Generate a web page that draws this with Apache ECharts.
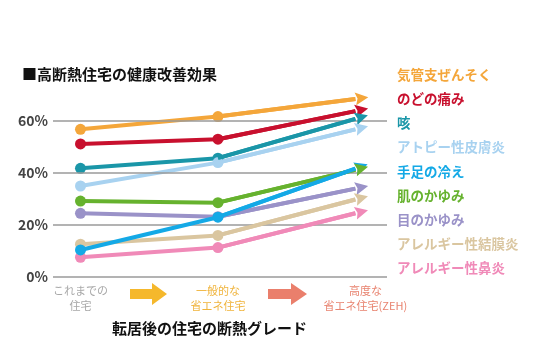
<!DOCTYPE html>
<html><head><meta charset="utf-8">
<script src="https://cdn.jsdelivr.net/npm/echarts@6/dist/echarts.min.js"></script>
<style>html,body{margin:0;padding:0;background:#fff}#c{width:539px;height:364px}</style>
</head><body><div id="c"></div>
<script>
const categories = ['これまでの\n住宅', '一般的な\n省エネ住宅', '高度な\n省エネ住宅(ZEH)'];
const seriesNames = ['気管支ぜんそく','のどの痛み','咳','アトピー性皮膚炎','手足の冷え','肌のかゆみ','目のかゆみ','アレルギー性結膜炎','アレルギー性鼻炎'];
const asthma      = [56.8, 61.7, 68.5];
const throat      = [51.2, 53.0, 63.8];
const cough       = [41.8, 45.7, 60.8];
const atopy       = [35.0, 44.0, 56.8];
const coldLimbs   = [10.4, 23.0, 41.7];
const skinItch    = [29.2, 28.6, 41.2];
const eyeItch     = [24.5, 23.2, 34.0];
const conjunct    = [12.6, 16.0, 29.8];
const rhinitis    = [7.6, 11.3, 24.5];
const yTicks = [0, 20, 40, 60];
const allValues = [asthma, throat, cough, atopy, coldLimbs, skinItch, eyeItch, conjunct, rhinitis];
const colors = ['#f4a63a','#c8102e','#1a96a8','#a8d2f0','#14a9e6','#66b22e','#9a92c8','#dac6a0','#f08ab8'];
const zOrder = [3,3,3,3,6,3,3,3,3];
const labelColors = ['#a8a8a8','#f0b43c','#e8836f'];
const FONT = '"Noto Sans CJK JP", "Noto Sans", sans-serif';
// arrow head whose base sits at the symbol centre (invisible anchor point below)
const ARROW = 'path://M6,24L6,24M6,0L12,12L6,10L0,12Z';

const chart = echarts.init(document.getElementById('c'), null, {renderer:'canvas'});
const series = [{
  name: 'grid', type: 'line', data: [], z: 1, silent: true,
  markLine: {
    silent: true, symbol: ['none', 'none'], label: {show: false}, animation: false,
    lineStyle: {color: '#9a9a9a', width: 1.5, type: 'solid'},
    emphasis: {disabled: true},
    data: yTicks.map(t => ({yAxis: t}))
  }
}].concat(seriesNames.map((name, i) => {
  const v = allValues[i];
  return {
    name, type: 'line', clip: false, z: zOrder[i],
    data: v.map((y, x) => ({value: [x, y], symbol: x < v.length - 1 ? 'circle' : 'none'})),
    symbolSize: 11,
    itemStyle: {color: colors[i]},
    lineStyle: {color: colors[i], width: 4},
    silent: true,
    markLine: {
      silent: true,
      symbol: ['none', ARROW],
      symbolSize: [13, 26],
      label: {show: false},
      lineStyle: {color: colors[i], width: 4, type: 'solid', opacity: 1},
      emphasis: {disabled: true},
      animation: false,
      data: [[{coord: [1, v[1]]}, {coord: [2, v[2]]}]]
    }
  };
}));

chart.setOption({
  animation: false,
  backgroundColor: '#fff',
  textStyle: {fontFamily: FONT},
  grid: {left: 53, right: 152, top: 69, bottom: 87},
  xAxis: {
    type: 'value', min: -0.2, max: 2.23,
    axisLine: {show: false}, axisTick: {show: false}, splitLine: {show: false},
    axisLabel: {
      customValues: [0, 1, 2], margin: 6, fontSize: 11, lineHeight: 15,
      formatter: (val) => {
        const i = Math.round(val);
        const parts = categories[i].split('\n');
        return parts.map(p => '{c' + i + '|' + p + '}').join('\n');
      },
      rich: {
        c0: {color: labelColors[0], fontSize: 11, lineHeight: 15, fontFamily: FONT},
        c1: {color: labelColors[1], fontSize: 11, lineHeight: 15, fontFamily: FONT},
        c2: {color: labelColors[2], fontSize: 11, lineHeight: 15, fontFamily: FONT, padding: [0, 0, 0, 20]}
      }
    }
  },
  yAxis: {
    type: 'value', min: 0, max: 80, interval: 20,
    axisLine: {show: false}, axisTick: {show: false},
    splitLine: {show: false},
    axisLabel: {
      customValues: yTicks,
      formatter: '{value}%', color: '#444', fontSize: 14, fontWeight: 'bold', margin: 5, fontFamily: FONT
    }
  },
  legend: {
    orient: 'vertical', left: 392, top: 68, padding: 0,
    itemWidth: 0, itemHeight: 14, itemGap: 10.1,
    icon: 'rect', selectedMode: false,
    textStyle: {fontSize: 13.5, fontWeight: 'bold', fontFamily: FONT},
    data: seriesNames.map((n, i) => ({name: n, textStyle: {color: colors[i]}}))
  },
  graphic: [
    {type: 'text', left: 22, top: 67, style: {text: '■高断熱住宅の健康改善効果', fill: '#111', font: 'bold 15px ' + FONT}},
    {type: 'text', left: 112, top: 321, style: {text: '転居後の住宅の断熱グレード', fill: '#111', font: 'bold 15px ' + FONT}},
    {type: 'polygon', shape: {points: [[130,289],[152,289],[152,283],[167,294],[152,305],[152,299],[130,299]]}, style: {fill: '#f5b82c'}},
    {type: 'polygon', shape: {points: [[268,289],[291,289],[291,283],[307,294],[291,305],[291,299],[268,299]]}, style: {fill: '#ea7f6c'}}
  ],
  series
});
</script></body></html>
